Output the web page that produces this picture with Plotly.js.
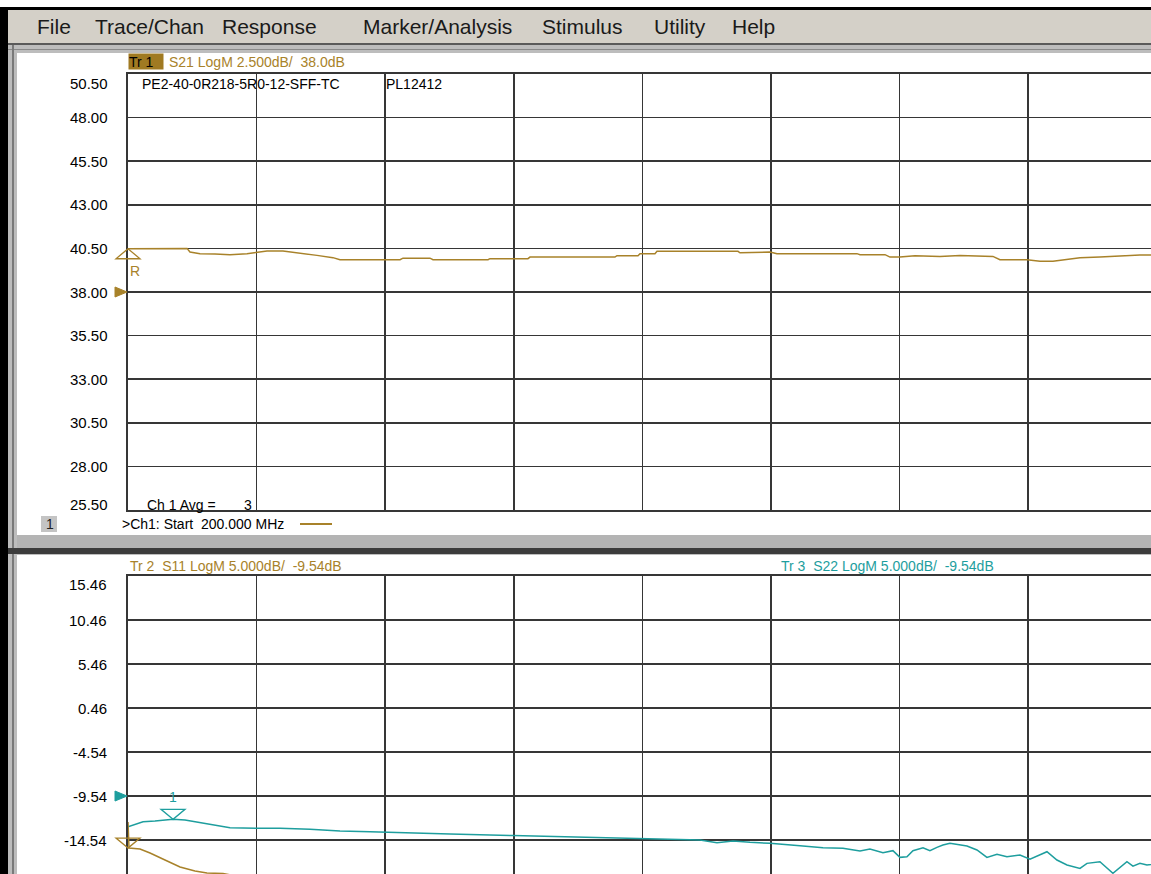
<!DOCTYPE html>
<html>
<head>
<meta charset="utf-8">
<script src="https://cdn.plot.ly/plotly-3.0.1.min.js"></script>
<style>html,body{margin:0;padding:0;background:#c0c0c0;}#chart{width:1151px;height:874px;}</style>
</head>
<body>
<div id="chart"></div>
<script>
// ---------------- data ----------------
const menuItems = ["File", "Trace/Chan", "Response", "Marker/Analysis", "Stimulus", "Utility", "Help"];

// Channel 1 : S21 (LogM, 2.5 dB/div, ref 38.0 dB)
const s21Freq = [200, 601, 781, 1017, 1058, 1197, 1404, 1612, 1847, 1985, 2124, 2345, 2442, 2581, 2816, 3037, 3134,
  3965, 4006, 4380, 4422, 5183, 5210, 5736, 5764, 6940, 6968, 7259, 7287, 7494, 7522, 8643, 8671, 9086, 9183,
  10290, 10332, 10678, 10747, 10885, 11093, 11439, 11716, 12172, 12269, 12643, 12823, 13003, 13169, 13377,
  13653, 13930, 14207, 14553];
const s21Db = [40.48, 40.48, 40.51, 40.50, 40.29, 40.20, 40.18, 40.14, 40.20, 40.27, 40.35, 40.35, 40.29, 40.23, 40.10, 39.97, 39.85,
  39.85, 39.94, 39.94, 39.85, 39.85, 39.91, 39.91, 40.00, 40.00, 40.08, 40.08, 40.20, 40.20, 40.33, 40.33, 40.25, 40.29, 40.20,
  40.20, 40.14, 40.14, 40.00, 40.00, 40.08, 40.04, 40.10, 40.04, 39.85, 39.85, 39.77, 39.77, 39.84, 39.96,
  40.00, 40.08, 40.12, 40.12];

// Channel 2 : S11 and S22 (LogM, 5 dB/div, ref -9.54 dB)
const s11Freq = [200, 214, 366, 505, 712, 920, 1127, 1293, 1515, 1750];
const s11Db = [-12.49, -15.45, -15.56, -16.02, -16.81, -17.61, -18.06, -18.29, -18.35, -18.70];

const s22Freq = [200, 269, 408, 574, 823, 989, 1197, 1404, 1612, 1985, 2304, 2719, 3134, 3550, 3965, 4657, 5529, 6456,
  7287, 8117, 8352, 8574, 8809, 9086, 9501, 9820, 10096, 10332, 10470, 10650, 10788, 10885, 10982, 11065, 11204,
  11300, 11397, 11480, 11577, 11674, 11813, 11951, 12089, 12228, 12366, 12546, 12685, 12920, 13058, 13197, 13377,
  13474, 13653, 13833, 14027, 14110, 14207, 14304, 14553];
const s22Db = [-13.03, -12.84, -12.46, -12.38, -12.19, -12.27, -12.57, -12.84, -13.14, -13.21, -13.21, -13.32, -13.52, -13.60, -13.67, -13.86, -14.03, -14.20,
  -14.37, -14.54, -14.84, -14.65, -14.80, -14.92, -15.19, -15.41, -15.48, -15.79, -15.56, -15.98, -15.75, -16.51, -16.44, -15.75, -15.41,
  -15.75, -15.37, -15.11, -14.92, -15.03, -15.22, -15.67, -16.51, -16.17, -16.44, -16.25, -16.73, -15.87, -16.81, -17.38, -17.76,
  -17.19, -17.00, -18.32, -17.00, -17.50, -17.19, -17.38, -17.10];

const marker1Freq = 823;     // marker 1 on S22
const marker1Db = -12.19;

const ch1Ticks = [50.50, 48.00, 45.50, 43.00, 40.50, 38.00, 35.50, 33.00, 30.50, 28.00, 25.50];
const ch2Ticks = [15.46, 10.46, 5.46, 0.46, -4.54, -9.54, -14.54];
const ch1RefLevel = 38.00;
const ch2RefLevel = -9.54;

// ---------------- layout helpers ----------------
const W = 1151, H = 874;
const px = x => x / W;
const py = y => 1 - y / H;
const GOLD = '#a8822a', TEAL = '#1e9e9e', GRID = '#363636';
const FONT = 'Liberation Sans, Arial, sans-serif';
const xDom0 = 128 / W;

const traces = [
  {x: s21Freq, y: s21Db, xaxis: 'x', yaxis: 'y', mode: 'lines', line: {color: GOLD, width: 1.5}, hoverinfo: 'skip'},
  {x: s22Freq, y: s22Db, xaxis: 'x2', yaxis: 'y2', mode: 'lines', line: {color: TEAL, width: 1.5}, hoverinfo: 'skip'},
  {x: s11Freq, y: s11Db, xaxis: 'x2', yaxis: 'y2', mode: 'lines', line: {color: GOLD, width: 1.5}, hoverinfo: 'skip'}
];

function rect(x0, y0, x1, y1, fill) {
  return {type: 'rect', xref: 'paper', yref: 'paper', x0: px(x0), x1: px(x1), y0: py(y1), y1: py(y0),
    fillcolor: fill, line: {width: 0}, layer: 'below'};
}

const shapes = [
  rect(0, 0, W, 7, '#ffffff'),
  rect(0, 7, W, 10, '#000000'),
  rect(0, 7, 8, H, '#000000'),
  rect(8, 10, W, 43, '#d4d0c8'),
  rect(8, 43, W, 45, '#5a5a5a'),
  rect(8, 45, W, 53, '#bdbdbd'),
  rect(8, 49, W, 50, '#8a8a8a'),
  rect(12, 45, 14, H, '#7a7a7a'),
  rect(17, 53, W, 535, '#ffffff'),
  rect(17, 535, W, 548, '#b4b4b4'),
  rect(8, 548, W, 554, '#3c3c3c'),
  rect(17, 555, W, H, '#ffffff'),
  rect(41, 516, 57, 532, '#c4c4c4'),
  {type: 'line', xref: 'paper', yref: 'paper', x0: px(300), x1: px(332), y0: py(524), y1: py(524), line: {color: GOLD, width: 2}},
  // reference "R" marker at start of S21
  {type: 'path', xref: 'paper', yref: 'y', xsizemode: 'pixel', ysizemode: 'pixel', xanchor: xDom0, yanchor: s21Db[0],
    path: 'M0,0L-12,-10L12,-10Z', line: {color: GOLD, width: 1.3}},
  // reference level arrows
  {type: 'path', xref: 'paper', yref: 'y', xsizemode: 'pixel', ysizemode: 'pixel', xanchor: xDom0, yanchor: ch1RefLevel,
    path: 'M-13,5L-1,0L-13,-5Z', fillcolor: GOLD, line: {color: GOLD, width: 1}},
  {type: 'path', xref: 'paper', yref: 'y2', xsizemode: 'pixel', ysizemode: 'pixel', xanchor: xDom0, yanchor: ch2RefLevel,
    path: 'M-13,5L-1,0L-13,-5Z', fillcolor: TEAL, line: {color: TEAL, width: 1}},
  // S11 marker at start
  {type: 'path', xref: 'paper', yref: 'y2', xsizemode: 'pixel', ysizemode: 'pixel', xanchor: xDom0, yanchor: s11Db[1],
    path: 'M0,0L-12,10L12,10Z', line: {color: GOLD, width: 1.3}},
  // marker 1 on S22
  {type: 'path', xref: 'x2', yref: 'y2', xsizemode: 'pixel', ysizemode: 'pixel', xanchor: marker1Freq, yanchor: marker1Db,
    path: 'M0,0L-12,10L12,10Z', line: {color: TEAL, width: 1.3}}
];

const menuX = [35, 93, 220, 361, 540, 652, 730];
function txt(text, x, y, opts) {
  opts = opts || {};
  return Object.assign({text: text, xref: 'paper', yref: 'paper', x: px(x), y: py(y), xanchor: 'left', yanchor: 'middle',
    showarrow: false, font: {family: FONT, size: opts.size || 14, color: opts.color || '#000'}}, opts.extra || {});
}

const annotations = [];
menuItems.forEach((m, i) => annotations.push(txt(m, menuX[i], 26, {size: 21, color: '#1a1a1a'})));
annotations.push(txt('Tr 1', 128, 62, {size: 14, color: '#000', extra: {bgcolor: '#a07a22', width: 34, height: 15, align: 'left', borderpad: 0}}));
annotations.push(txt('S21 LogM 2.500dB/\u00a0 38.0dB', 167, 62, {color: GOLD}));
annotations.push(txt('PE2-40-0R218-5R0-12-SFF-TC', 140, 84));
annotations.push(txt('PL12412', 384, 84));
annotations.push(txt('Ch 1 Avg =', 145, 505));
annotations.push(txt('3', 242, 505));
annotations.push(txt('1', 44, 524, {size: 14, color: '#222'}));
annotations.push(txt('>Ch1: Start\u00a0 200.000 MHz', 120, 524));
annotations.push(txt('Tr 2\u00a0 S11 LogM 5.000dB/\u00a0 -9.54dB', 128, 566, {color: GOLD}));
annotations.push(txt('Tr 3\u00a0 S22 LogM 5.000dB/\u00a0 -9.54dB', 779, 566, {color: TEAL}));

ch1Ticks.forEach((v, i) => annotations.push({text: v.toFixed(2), xref: 'paper', yref: 'y', x: px(110), y: v,
  xanchor: 'right', yanchor: 'middle', showarrow: false, yshift: i === 0 ? -9 : (i === ch1Ticks.length - 1 ? 6 : 0),
  font: {family: FONT, size: 15, color: '#000'}}));
ch2Ticks.forEach((v, i) => annotations.push({text: v.toFixed(2), xref: 'paper', yref: 'y2', x: px(109), y: v,
  xanchor: 'right', yanchor: 'middle', showarrow: false, yshift: i === 0 ? -8 : 0,
  font: {family: FONT, size: 15, color: '#000'}}));

annotations.push({text: 'R', xref: 'paper', yref: 'y', x: xDom0, y: s21Db[0], yshift: -22, showarrow: false,
  font: {family: FONT, size: 14, color: GOLD}});
annotations.push({text: '1', xref: 'x2', yref: 'y2', x: marker1Freq, y: marker1Db, yshift: 22, showarrow: false,
  font: {family: FONT, size: 14, color: TEAL}});

const xCommon = {range: [200, 14360], tick0: 200, dtick: 1780, showgrid: true, gridcolor: GRID, gridwidth: 1.7,
  showticklabels: false, ticks: '', zeroline: false, showline: true, linecolor: GRID, linewidth: 1.7, mirror: true,
  domain: [xDom0, 1], fixedrange: true};
const yCommon = {showgrid: true, gridcolor: GRID, gridwidth: 1.7, showticklabels: false, ticks: '', zeroline: false,
  showline: true, linecolor: GRID, linewidth: 1.7, mirror: true, fixedrange: true};

const layout = {
  width: W, height: H, margin: {l: 0, r: 0, t: 0, b: 0, pad: 0},
  paper_bgcolor: '#bdbdbd', plot_bgcolor: 'rgba(0,0,0,0)', showlegend: false,
  xaxis: Object.assign({}, xCommon, {anchor: 'y'}),
  yaxis: Object.assign({}, yCommon, {anchor: 'x', domain: [py(510), py(74)], range: [25.5, 50.5], tick0: 25.5, dtick: 2.5}),
  xaxis2: Object.assign({}, xCommon, {anchor: 'y2'}),
  yaxis2: Object.assign({}, yCommon, {anchor: 'x2', domain: [0, py(576)], range: [-18.40, 15.46], tick0: 15.46, dtick: 5}),
  shapes: shapes,
  annotations: annotations
};

Plotly.newPlot('chart', traces, layout, {staticPlot: true, displayModeBar: false});
</script>
</body>
</html>
